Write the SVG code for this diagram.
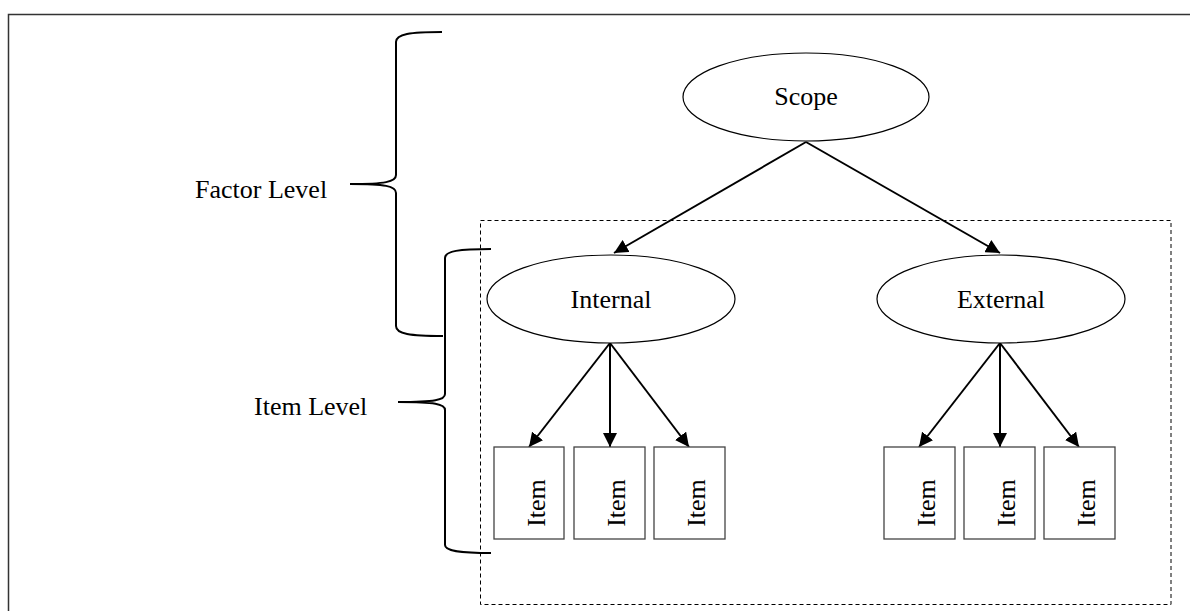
<svg xmlns="http://www.w3.org/2000/svg" width="1190" height="611" viewBox="0 0 1190 611">
<style>
  .lbl { font-family: "Liberation Serif", "Times New Roman", serif; font-size: 26px; fill: #000; }
  .ell { fill: #fff; stroke: #000; stroke-width: 1.2; }
  .box { fill: #fff; stroke: #444; stroke-width: 1.3; }
  .arr { stroke: #000; stroke-width: 2; fill: none; marker-end: url(#ah); }
  .brace { stroke: #000; stroke-width: 2; fill: none; }
</style>
<defs>
  <marker id="ah" viewBox="0 0 14 14" refX="14" refY="7" markerWidth="14" markerHeight="14" markerUnits="userSpaceOnUse" orient="auto">
    <path d="M0,0 L14,7 L0,14 Z" fill="#000"/>
  </marker>
</defs>
<rect x="0" y="0" width="1190" height="611" fill="#fff"/>
<path d="M8.5,620 L8.5,14.5 L1200,14.5" fill="none" stroke="#333" stroke-width="1.5"/>
<rect id="group-box" x="480.5" y="220.5" width="690.5" height="384" fill="none" stroke="#000" stroke-width="1" stroke-dasharray="4,3"/>

<g id="braces">
  <path class="brace" d="M442,32 C410,32 396,34 396,42 L396,175 C396,182 385,184 350,184 C385,184 396,186 396,193 L396,326 C396,334 410,336 443,336"/>
  <path class="brace" d="M491,249 C459,249 445,251 445,258 L445,394 C445,400 435,402 398,402 C435,402 445,404 445,410 L445,545 C445,551 459,553 491,553"/>
</g>
<text class="lbl" x="195" y="198">Factor Level</text>
<text class="lbl" x="254" y="415">Item Level</text>

<g id="connectors">
  <line class="arr" x1="806" y1="142" x2="614" y2="253"/>
  <line class="arr" x1="806" y1="142" x2="1000" y2="253"/>
  <line class="arr" x1="610" y1="343" x2="529" y2="447"/>
  <line class="arr" x1="610" y1="343" x2="610" y2="447"/>
  <line class="arr" x1="610" y1="343" x2="689" y2="447"/>
  <line class="arr" x1="1000" y1="343" x2="919" y2="447"/>
  <line class="arr" x1="1000" y1="343" x2="1000" y2="447"/>
  <line class="arr" x1="1000" y1="343" x2="1079" y2="447"/>
</g>

<g id="scope">
  <ellipse class="ell" cx="806" cy="97" rx="123" ry="44"/>
  <text class="lbl" x="806" y="105" text-anchor="middle">Scope</text>
</g>
<g id="internal">
  <ellipse class="ell" cx="611" cy="299" rx="124" ry="44"/>
  <text class="lbl" x="611" y="308" text-anchor="middle">Internal</text>
</g>
<g id="external">
  <ellipse class="ell" cx="1001" cy="299" rx="124" ry="44"/>
  <text class="lbl" x="1001" y="308" text-anchor="middle">External</text>
</g>

<g id="item-i1">
  <rect class="box" x="494" y="447" width="70" height="92"/>
  <text class="lbl" transform="translate(545,503) rotate(-90)" text-anchor="middle">Item</text>
</g>
<g id="item-i2">
  <rect class="box" x="574" y="447" width="71" height="92"/>
  <text class="lbl" transform="translate(625,503) rotate(-90)" text-anchor="middle">Item</text>
</g>
<g id="item-i3">
  <rect class="box" x="654" y="447" width="71" height="92"/>
  <text class="lbl" transform="translate(705,503) rotate(-90)" text-anchor="middle">Item</text>
</g>
<g id="item-e1">
  <rect class="box" x="884" y="447" width="71" height="92"/>
  <text class="lbl" transform="translate(935,503) rotate(-90)" text-anchor="middle">Item</text>
</g>
<g id="item-e2">
  <rect class="box" x="964" y="447" width="71" height="92"/>
  <text class="lbl" transform="translate(1015,503) rotate(-90)" text-anchor="middle">Item</text>
</g>
<g id="item-e3">
  <rect class="box" x="1044" y="447" width="71" height="92"/>
  <text class="lbl" transform="translate(1095,503) rotate(-90)" text-anchor="middle">Item</text>
</g>
</svg>
